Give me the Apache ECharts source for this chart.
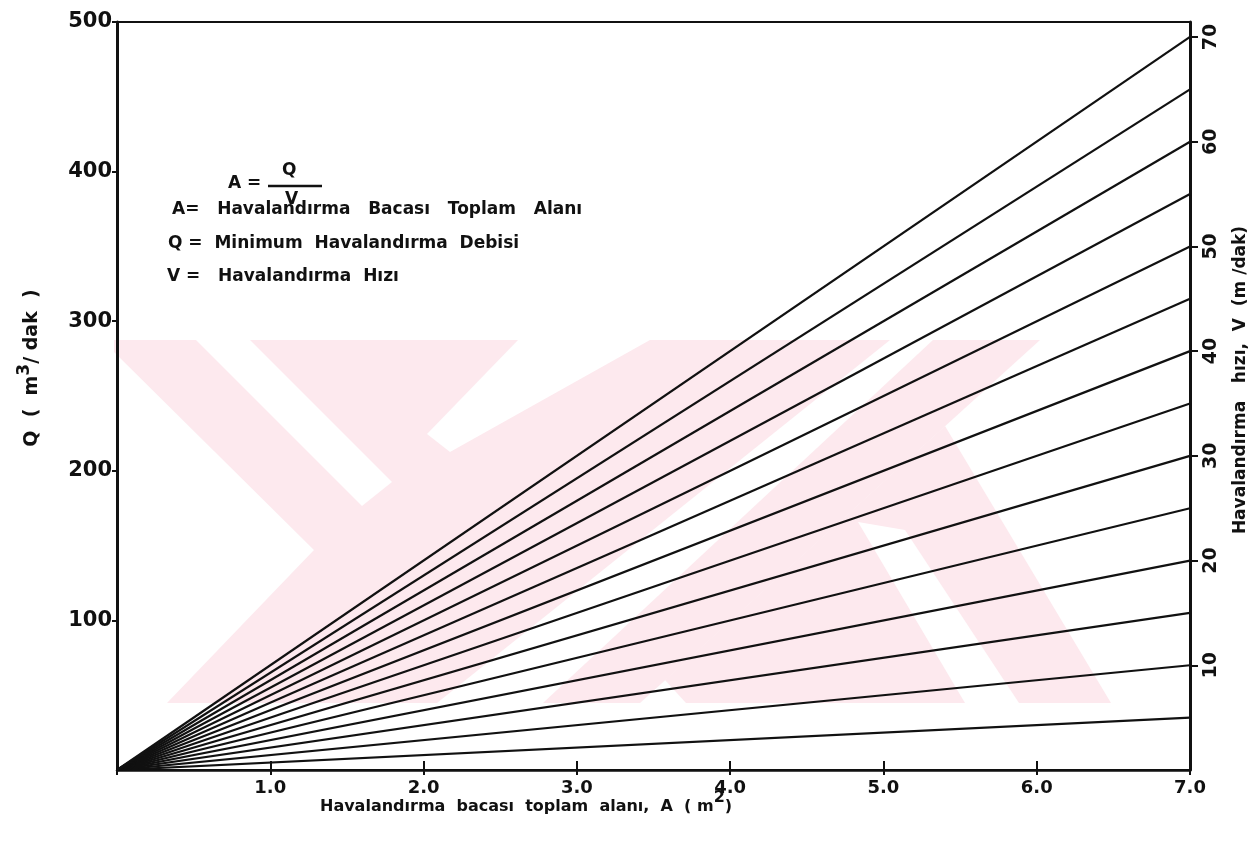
<!DOCTYPE html>
<html>
<head>
<meta charset="utf-8">
<script src="https://cdn.jsdelivr.net/npm/echarts@6/dist/echarts.min.js"></script>
<style>
html, body { margin: 0; padding: 0; background: #fff; }
#chart { width: 1259px; height: 846px; }
</style>
</head>
<body>
<div id="chart"></div>
<script>
// A = Q / V : one straight line per ventilation speed
const speeds = [5, 10, 15, 20, 25, 30, 35, 40, 45, 50, 55, 60, 65, 70]
const areaStart = 0
const areaEnd = 7.0
const flowAtEnd = [35, 70, 105, 140, 175, 210, 245, 280, 315, 350, 385, 420, 455, 490]
const areaMax = 7
const flowMax = 500
const speedMax = flowMax / areaMax

const FONT = 'DejaVu Sans'
const INK = '#111'
const PINK = '#fde9ee'

const chart = echarts.init(document.getElementById('chart'), null, { renderer: 'canvas' })

const series = speeds.map((v, i) => ({
    type: 'line',
    name: 'V = ' + v,
    data: [[areaStart, 0], [areaEnd, flowAtEnd[i]]],
    symbol: 'none',
    silent: true,
    lineStyle: { color: INK, width: 2.2 },
    z: 3
}))

function txt(left, top, text, size) {
    return { type: 'text', left: left, top: top, z: 10,
        style: { text: text, font: 'bold ' + size + 'px "' + FONT + '"', fill: INK } }
}

// faint scanned watermark behind the plot (pixel outline, not data)
function patch(points, fill) {
    return { type: 'polygon', z: -5, silent: true, shape: { points: points }, style: { fill: fill } }
}
const watermark = [
    patch([[114, 340], [890, 340], [437, 703], [167, 703], [314, 550], [114, 352]], PINK),
    patch([[196, 340], [250, 340], [392, 482], [362, 506]], '#fff'),
    patch([[518, 340], [650, 340], [450, 452], [427, 434]], '#fff'),
    patch([[543, 703], [640, 703], [1040, 340], [933, 340]], PINK),
    patch([[665, 680], [945, 426], [1111, 703], [686, 703]], PINK),
    patch([[858, 522], [905, 530], [1019, 703], [965, 703]], '#fff')
]

const option = {
    animation: false,
    backgroundColor: '#fff',
    grid: {
        left: 117, right: 69, top: 22, bottom: 76,
        show: true, borderColor: INK, borderWidth: 2
    },
    xAxis: [{
        type: 'value', min: 0, max: areaMax, interval: 1,
        splitLine: { show: false },
        axisLine: { onZero: false, lineStyle: { color: INK, width: 2.5 } },
        axisTick: { inside: true, length: 9, lineStyle: { color: INK, width: 2 } },
        axisLabel: {
            showMinLabel: false, margin: 9, color: INK,
            fontFamily: FONT, fontWeight: 'bold', fontSize: 18,
            formatter: v => v.toFixed(1)
        }
    }, {
        type: 'value', min: 0, max: areaMax, interval: 1, position: 'bottom',
        splitLine: { show: false },
        axisLine: { show: false, onZero: false },
        axisTick: { length: 5, lineStyle: { color: INK, width: 2 } },
        axisLabel: { show: false }
    }],
    yAxis: [{
        type: 'value', min: 0, max: flowMax, interval: 100,
        splitLine: { show: false },
        axisLine: { onZero: false, lineStyle: { color: INK, width: 3 } },
        axisTick: { length: 5, lineStyle: { color: INK, width: 2 } },
        axisLabel: {
            showMinLabel: false, margin: 5, color: INK,
            fontFamily: FONT, fontWeight: 'bold', fontSize: 21
        }
    }, {
        type: 'value', min: 0, max: speedMax, interval: 10, position: 'right',
        splitLine: { show: false },
        axisLine: { onZero: false, lineStyle: { color: INK, width: 3 } },
        axisTick: { length: 8, lineStyle: { color: INK, width: 2 } },
        axisLabel: {
            showMinLabel: false, margin: 12, rotate: 90, color: INK,
            fontFamily: FONT, fontWeight: 'bold', fontSize: 19
        }
    }],
    graphic: watermark.concat([
        // axis titles
        { type: 'text', x: 32, y: 368, rotation: Math.PI / 2, z: 10, style: {
            text: '{n|Q  (  m}{s|3}{n|/ dak  )}', align: 'center', verticalAlign: 'middle',
            rich: {
                n: { fontFamily: FONT, fontWeight: 'bold', fontSize: 19, fill: INK },
                s: { fontFamily: FONT, fontWeight: 'bold', fontSize: 17, fill: INK, padding: [0, 0, 14, 0] }
            }
        } },
        { type: 'text', x: 1241, y: 380, rotation: Math.PI / 2, z: 10, style: {
            text: 'Havalandırma   hızı,  V  (m /dak)', align: 'center', verticalAlign: 'middle',
            font: 'bold 17px "' + FONT + '"', fill: INK
        } },
        { type: 'text', left: 320, top: 790, z: 10, style: {
            text: '{n|Havalandırma  bacası  toplam  alanı,  A  ( m}{s|2}{n|)}',
            rich: {
                n: { fontFamily: FONT, fontWeight: 'bold', fontSize: 16, fill: INK },
                s: { fontFamily: FONT, fontWeight: 'bold', fontSize: 16, fill: INK, padding: [0, 0, 18, 0] }
            }
        } },
        // formula and legend text
        txt(228, 175, 'A =', 17),
        txt(282, 162, 'Q', 17),
        { type: 'line', z: 10, shape: { x1: 268, y1: 186, x2: 322, y2: 186 }, style: { stroke: INK, lineWidth: 2.5 } },
        txt(285, 191, 'V', 17),
        txt(172, 201, 'A=   Havalandırma   Bacası   Toplam   Alanı', 17),
        txt(168, 235, 'Q =  Minimum  Havalandırma  Debisi', 17),
        txt(167, 268, 'V =   Havalandırma  Hızı', 17)
    ]),
    series: series
}

chart.setOption(option)
</script>
</body>
</html>
